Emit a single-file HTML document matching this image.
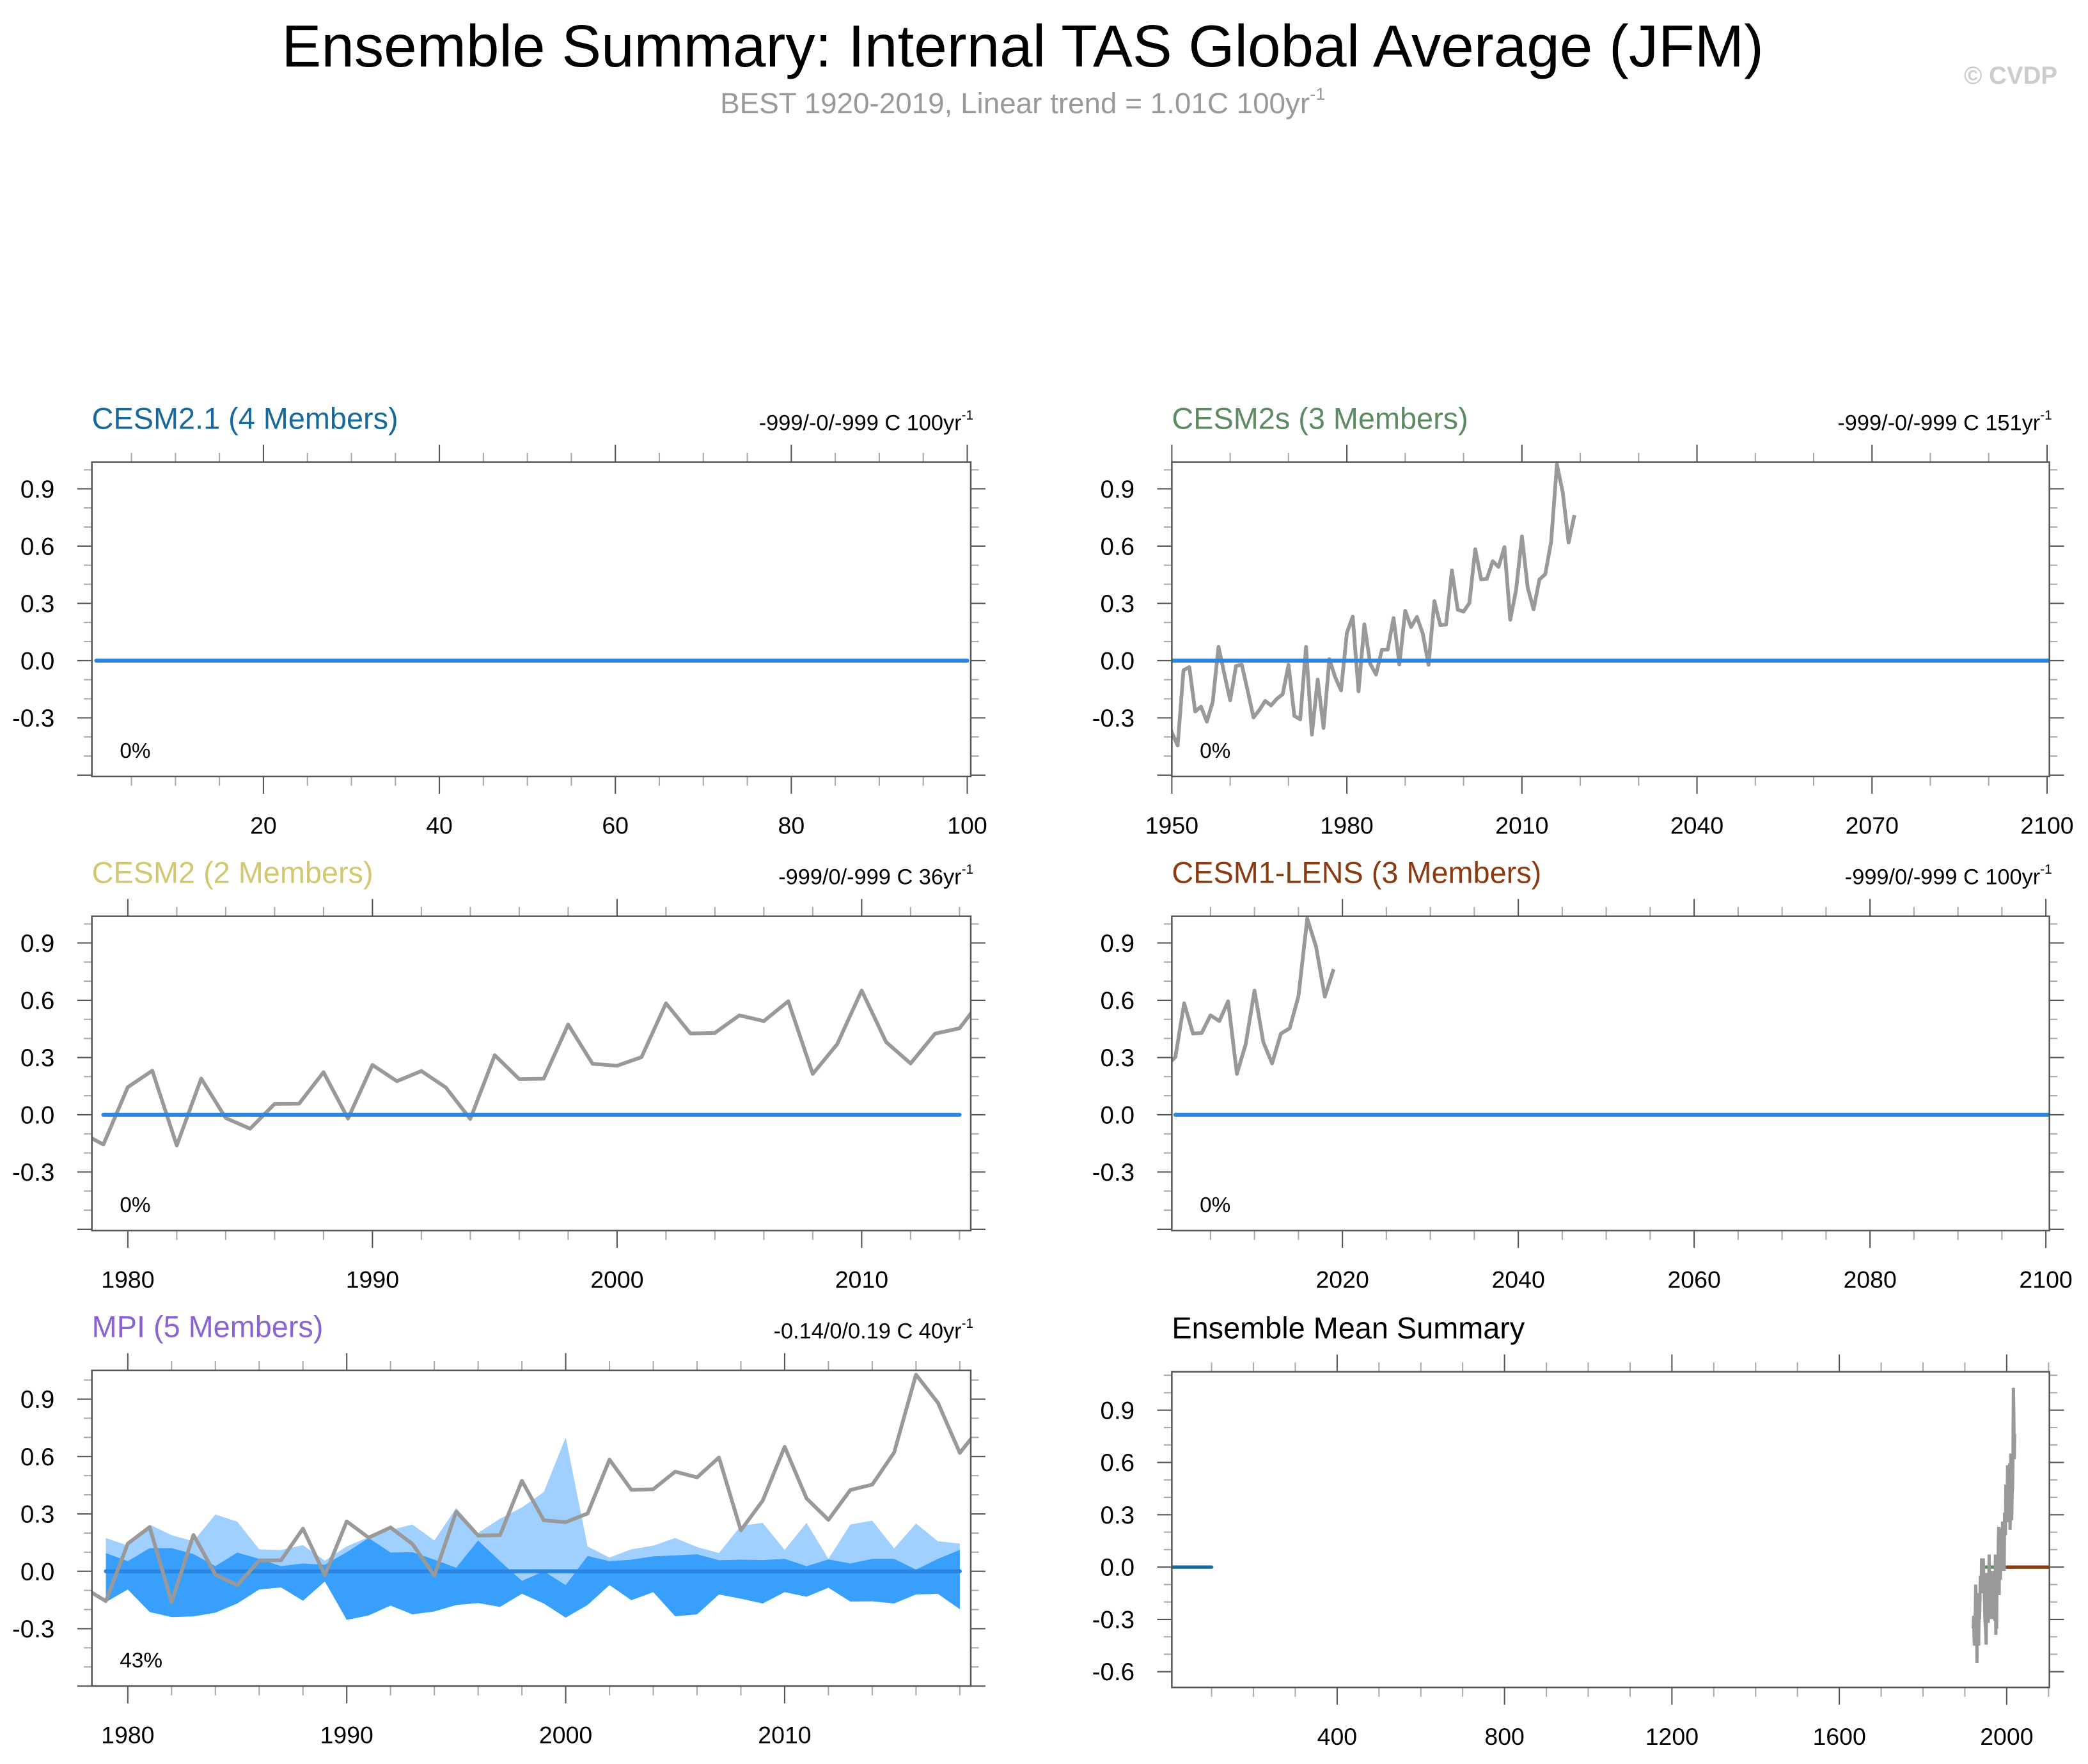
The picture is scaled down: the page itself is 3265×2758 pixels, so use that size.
<!DOCTYPE html>
<html><head><meta charset="utf-8">
<style>
html,body{margin:0;padding:0;background:#fff;}
svg{display:block;font-family:"Liberation Sans",sans-serif;}
</style></head>
<body>
<svg id="fig" width="3265" height="2758" viewBox="0 0 1568 1324.5" xmlns="http://www.w3.org/2000/svg">
<text x="768" y="50" font-size="44.5" text-anchor="middle" fill="#000">Ensemble Summary: Internal TAS Global Average (JFM)</text>
<text x="768" y="85" font-size="22" text-anchor="middle" fill="#999">BEST 1920-2019, Linear trend = 1.01C 100yr<tspan font-size="13" dy="-10">-1</tspan></text>
<text x="1545" y="63" font-size="18.5" font-weight="bold" text-anchor="end" fill="#ccc">© CVDP</text>
</svg>
<script>
// ---- data ----
const obsStartYear = 1949;
const obsValues = [-0.285,-0.377,-0.445,-0.050,-0.034,-0.267,-0.241,-0.320,-0.217,0.072,
-0.070,-0.208,-0.028,-0.022,-0.158,-0.298,-0.259,-0.211,-0.235,-0.200,
-0.176,-0.022,-0.290,-0.308,0.072,-0.388,-0.099,-0.353,0.008,-0.087,
-0.156,0.145,0.231,-0.161,0.190,-0.017,-0.073,0.057,0.058,0.223,
-0.020,0.261,0.176,0.229,0.143,-0.022,0.312,0.187,0.189,0.473,
0.267,0.257,0.302,0.584,0.426,0.429,0.521,0.491,0.595,0.214,
0.370,0.651,0.381,0.269,0.425,0.453,0.621,1.028,0.881,0.619,0.763];
const obsEarlyStartYear = 1920;
const obsEarlyValues = [-0.35,-0.28,-0.40,-0.45,-0.30,-0.25,-0.10,-0.20,-0.30,-0.55,-0.20,-0.15,-0.30,-0.45,-0.25,-0.30,-0.20,-0.05,-0.10,-0.15,0.05,0.00,-0.05,-0.10,0.05,-0.05,-0.10,-0.20,-0.30];
const mpiYears = [1979,1980,1981,1982,1983,1984,1985,1986,1987,1988,1989,1990,1991,1992,1993,1994,1995,1996,1997,1998,1999,2000,2001,2002,2003,2004,2005,2006,2007,2008,2009,2010,2011,2012,2013,2014,2015,2016,2017,2018];
const mpiLightUpper = [0.174,0.134,0.244,0.189,0.157,0.297,0.260,0.115,0.111,0.137,0.056,0.130,0.179,0.216,0.245,0.161,0.331,0.201,0.275,0.334,0.414,0.700,0.130,0.072,0.115,0.134,0.174,0.127,0.095,0.238,0.253,0.112,0.253,0.065,0.245,0.265,0.120,0.250,0.157,0.145];
const mpiDarkUpper = [0.095,0.053,0.121,0.121,0.090,0.027,0.098,0.065,0.027,0.041,0.034,0.100,0.174,0.098,0.100,0.061,0.019,0.161,0.053,-0.050,0.000,-0.072,0.080,0.053,0.061,0.078,0.083,0.089,0.058,0.061,0.059,0.065,0.027,0.062,0.041,0.065,0.065,0.009,0.065,0.112];
const mpiDarkLower = [-0.161,-0.095,-0.213,-0.239,-0.236,-0.216,-0.168,-0.095,-0.084,-0.154,-0.053,-0.254,-0.231,-0.179,-0.225,-0.210,-0.176,-0.166,-0.186,-0.117,-0.168,-0.242,-0.176,-0.072,-0.151,-0.109,-0.235,-0.225,-0.121,-0.143,-0.168,-0.109,-0.133,-0.086,-0.158,-0.157,-0.168,-0.121,-0.118,-0.198];
const yTickLabels = ["-0.3","0.0","0.3","0.6","0.9"];
const yTickLabelsMean = ["-0.6","-0.3","0.0","0.3","0.6","0.9"];

const NS = "http://www.w3.org/2000/svg";
const svg = document.getElementById('fig');
function mk(tag, attrs, parent){ const e=document.createElementNS(NS,tag); for(const k in attrs) e.setAttribute(k,attrs[k]); (parent||svg).appendChild(e); return e; }

let clipId=0;
function panel(c){
  const g = mk('g',{});
  
  
  const X = v => c.x0 + (v-c.xmin)/(c.xmax-c.xmin)*(c.x1-c.x0);
  const Y = v => c.y1 - (v-c.ymin)/(c.ymax-c.ymin)*(c.y1-c.y0);
  clipId++;
  const cp = mk('clipPath',{id:'cp'+clipId},g);
  mk('rect',{x:c.x0,y:c.y0,width:c.x1-c.x0,height:c.y1-c.y0},cp);
  const plot = mk('g',{'clip-path':'url(#cp'+clipId+')'},g);
  
  
  const tg = mk('g',{},g);
  
  
  for(let v=c.xminorStart; v<=c.xmax+1e-6; v+=c.xminor){
    if(v<c.xmin-1e-6) continue;
    const major = Math.abs(((v-c.xmajorStart)/c.xmajor)-Math.round((v-c.xmajorStart)/c.xmajor))<1e-6;
    const L = major?13:7, col = major?'#555':'#aaa', x=X(v);
    mk('line',{x1:x,x2:x,y1:c.y0,y2:c.y0-L,stroke:col,'stroke-width':1},tg);
    mk('line',{x1:x,x2:x,y1:c.y1,y2:c.y1+L,stroke:col,'stroke-width':1},tg);
    if(major && v>=c.xlabelMin){
      const t = mk('text',{x:x,y:c.y1+43,'font-size':18,'text-anchor':'middle',fill:'#000'},g);
      
      
      t.textContent = String(Math.round(v));
    }
  }
  for(let i=-7;i<=11;i++){
    const v=i/10; if(v<c.ymin-1e-6||v>c.ymax+1e-6) continue;
    const major = ((i%3)+3)%3===0;
    const L = major?11:6, col = major?'#555':'#aaa', y=Y(v);
    mk('line',{x1:c.x0,x2:c.x0-L,y1:y,y2:y,stroke:col,'stroke-width':1},tg);
    mk('line',{x1:c.x1,x2:c.x1+L,y1:y,y2:y,stroke:col,'stroke-width':1},tg);
  }
  c.ylabels.forEach(s=>{
    const t = mk('text',{x:c.x0-28,y:Y(parseFloat(s))+6.5,'font-size':18.5,'text-anchor':'end',fill:'#000'},g);
    
    
    t.textContent = s;
  });
  const frame = mk('rect',{x:c.x0,y:c.y0,width:c.x1-c.x0,height:c.y1-c.y0,fill:'none',stroke:'#555','stroke-width':1.2},g);
  
  
  const ti = mk('text',{x:c.x0,y:c.y0-25,'font-size':22.5,fill:c.color},g);
  
  
  ti.textContent = c.title;
  if(c.trend){
    const tr = mk('text',{x:c.x1+2,y:c.y0-24,'font-size':16.5,'text-anchor':'end',fill:'#000'},g);
    
    
    tr.textContent = c.trend;
    const sp = mk('tspan',{'font-size':10,dy:-8},tr); sp.textContent='-1';
  }
  if(c.pct){
    const p = mk('text',{x:c.x0+21,y:c.y1-14,'font-size':16,fill:'#000'},g);
    
    
    p.textContent = c.pct;
  }
  return {plot,X,Y};
}
function linePath(xs, ys, X, Y){ return xs.map((x,i)=>(i?'L':'M')+X(x).toFixed(2)+','+Y(ys[i]).toFixed(2)).join(''); }
const obsYears = obsValues.map((_,i)=>obsStartYear+i);
function drawObs(P){
  const p = mk('path',{d:linePath(obsYears,obsValues,P.X,P.Y),fill:'none',stroke:'#999','stroke-width':2.8,'stroke-linejoin':'round'},P.plot);
  
  
}
function zeroLine(P,a,b,col,w){
  const l = mk('line',{x1:P.X(a),x2:P.X(b),y1:P.Y(0),y2:P.Y(0),stroke:col,'stroke-width':w||3,'stroke-linecap':'round'},P.plot);
  
  
}

const L0=69,L1=729,R0=880,R1=1539;
let P = panel({name:'cesm21-panel',title:'CESM2.1 (4 Members)',color:'#16699a',trend:'-999/-0/-999 C 100yr',pct:'0%',
  x0:L0,x1:L1,y0:347,y1:583,xmin:0.5,xmax:100.4,ymin:-0.607,ymax:1.04,xmajor:20,xmajorStart:0,xminor:5,xminorStart:0,xlabelMin:20,ylabels:yTickLabels});
zeroLine(P,1,100,'#2a86e0');
P = panel({name:'cesm2s-panel',title:'CESM2s (3 Members)',color:'#5e8a63',trend:'-999/-0/-999 C 151yr',pct:'0%',
  x0:R0,x1:R1,y0:347,y1:583,xmin:1950,xmax:2100.4,ymin:-0.607,ymax:1.04,xmajor:30,xmajorStart:1950,xminor:10,xminorStart:1950,xlabelMin:1950,ylabels:yTickLabels});
drawObs(P); zeroLine(P,1950,2100.4,'#2a86e0');
P = panel({name:'cesm2-panel',title:'CESM2 (2 Members)',color:'#d2c873',trend:'-999/0/-999 C 36yr',pct:'0%',
  x0:L0,x1:L1,y0:688,y1:924,xmin:1978.53,xmax:2014.46,ymin:-0.607,ymax:1.04,xmajor:10,xmajorStart:1980,xminor:2,xminorStart:1978,xlabelMin:1980,ylabels:yTickLabels});
drawObs(P); zeroLine(P,1979,2014,'#2a86e0');
P = panel({name:'cesm1-lens-panel',title:'CESM1-LENS (3 Members)',color:'#8a3b12',trend:'-999/0/-999 C 100yr',pct:'0%',
  x0:R0,x1:R1,y0:688,y1:924,xmin:2000.6,xmax:2100.4,ymin:-0.607,ymax:1.04,xmajor:20,xmajorStart:2020,xminor:5,xminorStart:2005,xlabelMin:2020,ylabels:yTickLabels});
drawObs(P); zeroLine(P,2001,2100.4,'#2a86e0');
P = panel({name:'mpi-panel',title:'MPI (5 Members)',color:'#8a63d2',trend:'-0.14/0/0.19 C 40yr',pct:'43%',
  x0:L0,x1:L1,y0:1029,y1:1266,xmin:1978.36,xmax:2018.5,ymin:-0.6,ymax:1.05,xmajor:10,xmajorStart:1980,xminor:2,xminorStart:1978,xlabelMin:1980,ylabels:yTickLabels});
{
  const up = linePath(mpiYears,mpiLightUpper,P.X,P.Y);
  const lo = mpiYears.slice().reverse().map((x,i)=>'L'+P.X(x).toFixed(2)+','+P.Y(mpiDarkLower[mpiYears.length-1-i]).toFixed(2)).join('');
  const f1 = mk('path',{d:up+lo+'Z',fill:'#a0d0ff'},P.plot);
  
  
  const up2 = linePath(mpiYears,mpiDarkUpper,P.X,P.Y);
  const f2 = mk('path',{d:up2+lo+'Z',fill:'#399ffc'},P.plot);
  
  
}
zeroLine(P,1979,2018,'#2a86e0');
drawObs(P);
P = panel({name:'ensemble-mean-summary-panel',title:'Ensemble Mean Summary',color:'#000',trend:null,pct:null,
  x0:R0,x1:R1,y0:1030,y1:1267,xmin:5,xmax:2102,ymin:-0.69,ymax:1.12,xmajor:400,xmajorStart:0,xminor:100,xminorStart:0,xlabelMin:400,ylabels:yTickLabelsMean});
zeroLine(P,1,100,'#16699a',2.5);
zeroLine(P,1950,2100,'#5e8a63',2.5);
zeroLine(P,1979,2014,'#d2c873',2.5);
zeroLine(P,1979,2018,'#8a63d2',2.5);
zeroLine(P,2001,2100,'#8a3b12',2.5);
{
  const yrs = obsEarlyValues.map((_,i)=>obsEarlyStartYear+i).concat(obsYears.slice(1));
  const vals = obsEarlyValues.concat(obsValues.slice(1));
  const p = mk('path',{d:linePath(yrs,vals,P.X,P.Y),fill:'none',stroke:'#999','stroke-width':2.4},P.plot);
  
  
}
</script>
</body></html>
